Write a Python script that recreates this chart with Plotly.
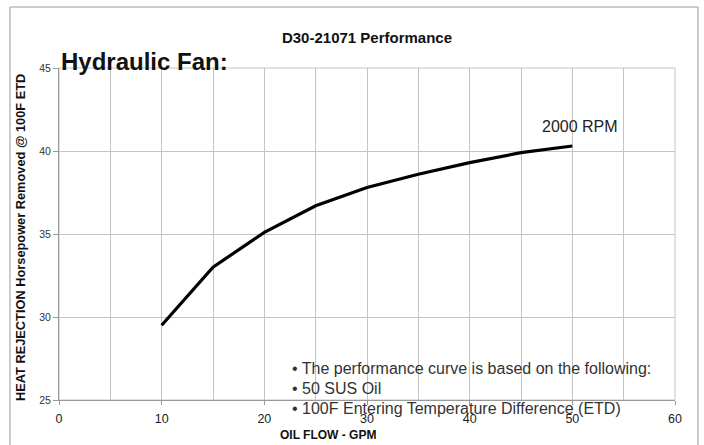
import plotly.graph_objects as go

flow_gpm = [10, 15, 20, 25, 30, 35, 40, 45, 50]
heat_hp = [29.5, 33.0, 35.1, 36.7, 37.8, 38.6, 39.3, 39.9, 40.3]
x_ticks = [0, 10, 20, 30, 40, 50, 60]
y_ticks = [25, 30, 35, 40, 45]
title = "D30-21071 Performance"
series_label = "2000 RPM"
notes = ["• The performance curve is based on the following:",
         "• 50 SUS Oil",
         "• 100F Entering Temperature Difference (ETD)"]

FONT = "Liberation Sans, Arial, Helvetica, sans-serif"
PH = 332.0
PW = 616.0

fig = go.Figure()
fig.add_trace(go.Scatter(x=flow_gpm, y=heat_hp, mode="lines",
                         line=dict(color="black", width=3.2),
                         showlegend=False, hoverinfo="skip"))

fig.update_layout(
    width=704, height=445,
    margin=dict(l=59, r=29, t=68, b=45),
    paper_bgcolor="white", plot_bgcolor="white",
    font=dict(family=FONT, color="#222"),
    title=dict(text="<b>" + title + "</b>", x=(367 - 0) / 704, xanchor="center",
               y=1 - 38 / 445, yanchor="middle",
               font=dict(size=15, color="#111")),
)
fig.update_xaxes(range=[0, 60], tickvals=x_ticks,
                 showgrid=True, gridcolor="#c4c4c4", gridwidth=1,
                 minor=dict(dtick=5, showgrid=True, gridcolor="#c4c4c4"),
                 showline=True, linecolor="#999", linewidth=1,
                 ticks="outside", ticklen=4, tickcolor="#999",
                 ticklabelstandoff=3,
                 tickfont=dict(size=12.5, color="#222"), zeroline=False)
fig.update_yaxes(range=[25, 45], tickvals=y_ticks,
                 showgrid=True, gridcolor="#c4c4c4", gridwidth=1,
                 showline=True, linecolor="#999", linewidth=1,
                 ticks="outside", ticklen=5, tickcolor="#999",
                 tickfont=dict(size=10.5, color="#333"), zeroline=False)

# frame top/right
fig.add_shape(type="rect", xref="x domain", yref="y domain", x0=0, x1=1, y0=0, y1=1,
              line=dict(color="#c4c4c4", width=1), layer="below")
# outer border
fig.add_shape(type="rect", xref="paper", yref="paper",
              x0=(10 - 59) / PW, x1=(698 - 59) / PW, y0=-60 / PH, y1=(400 - 7) / PH,
              line=dict(color="#999", width=1))

fig.add_annotation(text="<b>Hydraulic Fan:</b>", xref="paper", yref="paper",
                   x=0.0, y=1.0, xanchor="left", yanchor="bottom", yshift=-9,
                   showarrow=False, font=dict(size=24, color="#111"))
fig.add_annotation(text=series_label, x=50, y=40.3, xanchor="center", yanchor="middle",
                   yshift=20, xshift=8, showarrow=False,
                   font=dict(size=16, color="#222"))
for i, t in enumerate(notes):
    fig.add_annotation(text=t, xref="x", yref="paper", x=22.5,
                       y=(400 - (368 + 20.5 * i)) / PH,
                       xanchor="left", yanchor="middle", showarrow=False,
                       font=dict(size=16, color="#333"))
fig.add_annotation(text="<b>OIL FLOW - GPM</b>", xref="paper", yref="paper",
                   x=(328 - 59) / PW, y=-35 / PH, xanchor="center", yanchor="middle",
                   showarrow=False, font=dict(size=12, color="#111"))
fig.add_annotation(text="<b>HEAT REJECTION Horsepower Removed @ 100F ETD</b>",
                   xref="paper", yref="paper", x=-38 / PW, y=(400 - 238) / PH,
                   xanchor="center", yanchor="middle", textangle=-90,
                   showarrow=False, font=dict(size=12.8, color="#111"))

fig.write_html("out.html", config={"displayModeBar": False},
               post_script="document.body.style.margin='0';document.body.style.overflow='hidden';")
